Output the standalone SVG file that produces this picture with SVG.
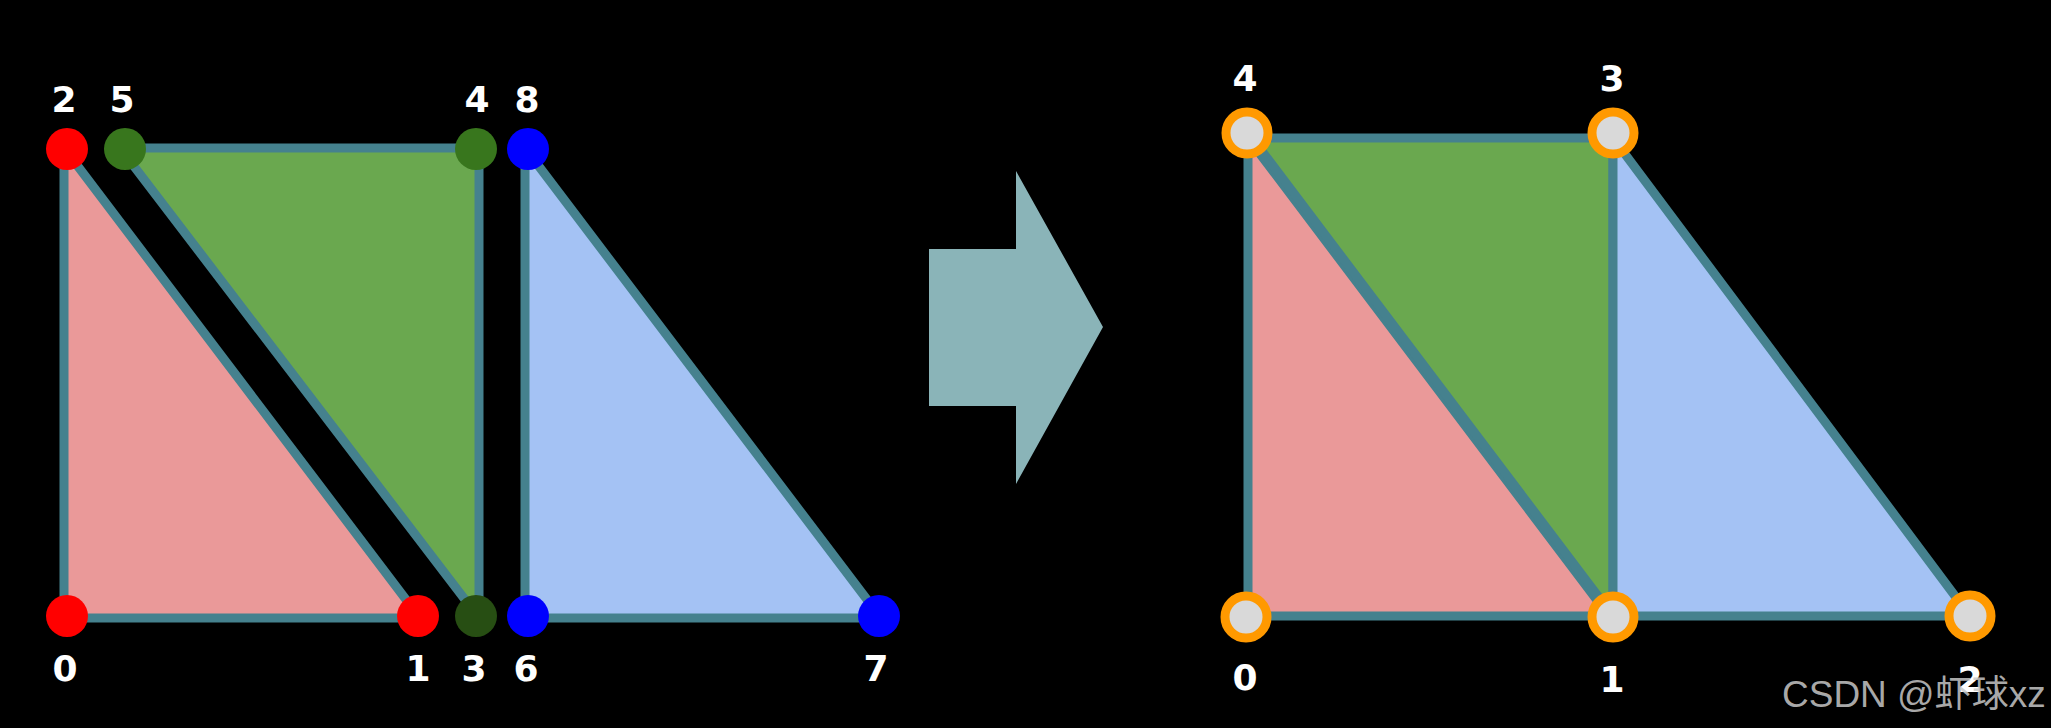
<svg xmlns="http://www.w3.org/2000/svg" width="2051" height="728" viewBox="0 0 2051 728">
<style>
.edge{stroke:#45818e;stroke-width:9;stroke-linejoin:miter}
.red{fill:#ea9999}.green{fill:#6aa84f}.blue{fill:#a4c2f4}
.lbl{font-family:"DejaVu Sans","Liberation Sans",sans-serif;font-weight:bold;font-size:36px;fill:#ffffff;text-anchor:middle}
.ring{fill:#d9d9d9;stroke:#ff9900;stroke-width:9}
.wm{font-family:"Liberation Sans","Noto Sans CJK SC",sans-serif;font-size:37px;fill:#c8c8c8;fill-opacity:0.85}
</style>
<rect x="0" y="0" width="2051" height="728" fill="#000000"/>
<g id="connectors">
  <polygon class="edge red" points="64,148 64,618 420,618"/>
  <polygon class="edge green" points="120,148 479,148 479,618"/>
  <polygon class="edge blue" points="525,148 525,618 881,618"/>
  <polygon id="arrow" points="929,249 1016,249 1016,171 1103,327 1016,484 1016,406 929,406" fill="#8ab4b8"/>
  <polygon class="edge red" points="1248,138 1248,616 1609,616"/>
  <polygon class="edge green" points="1252,138 1613,138 1613,616"/>
  <polygon class="edge blue" points="1613,138 1613,616 1970,616"/>
</g>
<g id="left-nodes">
  <g id="n2"><circle cx="67" cy="149" r="21" fill="#ff0000"/><text class="lbl" x="64" y="112">2</text></g>
  <g id="n5"><circle cx="125" cy="149" r="21" fill="#38761d"/><text class="lbl" x="122" y="112">5</text></g>
  <g id="n4"><circle cx="476" cy="149" r="21" fill="#38761d"/><text class="lbl" x="477" y="112">4</text></g>
  <g id="n8"><circle cx="528" cy="149" r="21" fill="#0000ff"/><text class="lbl" x="527" y="112">8</text></g>
  <g id="n0"><circle cx="67" cy="616" r="21" fill="#ff0000"/><text class="lbl" x="65" y="681">0</text></g>
  <g id="n1"><circle cx="418" cy="616" r="21" fill="#ff0000"/><text class="lbl" x="418" y="681">1</text></g>
  <g id="n3"><circle cx="476" cy="616" r="21" fill="#274e13"/><text class="lbl" x="474" y="681">3</text></g>
  <g id="n6"><circle cx="528" cy="616" r="21" fill="#0000ff"/><text class="lbl" x="526" y="681">6</text></g>
  <g id="n7"><circle cx="879" cy="616" r="21" fill="#0000ff"/><text class="lbl" x="876" y="681">7</text></g>
</g>
<g id="right-nodes">
  <g id="m4"><circle class="ring" cx="1247" cy="133" r="21"/><text class="lbl" x="1245" y="91">4</text></g>
  <g id="m3"><circle class="ring" cx="1613" cy="133" r="21"/><text class="lbl" x="1612" y="91">3</text></g>
  <g id="m0"><circle class="ring" cx="1246" cy="617" r="21"/><text class="lbl" x="1245" y="690">0</text></g>
  <g id="m1"><circle class="ring" cx="1613" cy="617" r="21"/><text class="lbl" x="1612" y="692">1</text></g>
  <g id="m2"><circle class="ring" cx="1970" cy="616" r="21"/><text class="lbl" x="1970" y="692">2</text></g>
</g>
<text class="wm" x="1782" y="707">CSDN @虾球xz</text>
</svg>
